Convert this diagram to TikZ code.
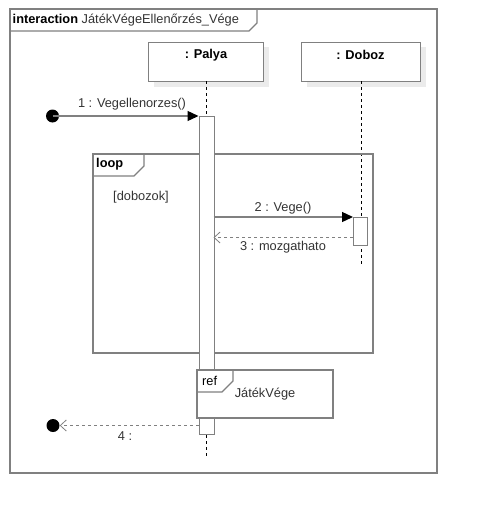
\documentclass[tikz,border=0pt]{standalone}
\usepackage{fontspec}
\setmainfont{Liberation Sans}
\usetikzlibrary{arrows.meta}

\definecolor{linegray}{HTML}{808080}
\definecolor{shadowgray}{HTML}{EBEBEB}
\definecolor{textgray}{HTML}{333333}

\tikzset{
  umlfont/.style={font=\fontsize{12.8}{15}\selectfont},
  umlbold/.style={font=\fontsize{12.8}{15}\selectfont\bfseries},
  frameline/.style={draw=linegray, line width=1.3pt},
  lifebox/.style={frameline, fill=white},
  boxshadow/.style={fill=shadowgray, draw=none},
  lifeline/.style={draw=black, line width=0.8pt, dash pattern=on 3pt off 3pt},
  actbar/.style={frameline, fill=white},
  callmsg/.style={draw=linegray, line width=1.3pt,
    -{Triangle[length=11pt,width=10pt,fill=black,color=black]}},
  replymsg/.style={draw=linegray, line width=1.3pt, dash pattern=on 3pt off 3pt,
    -{Straight Barb[length=6pt,width=11pt,line width=0.8pt,color=linegray]}},
  msglabel/.style={umlfont, text=textgray, inner sep=0pt},
  endpoint/.style={circle, fill=black, inner sep=0pt, minimum size=13pt}
}

\begin{document}
\begin{tikzpicture}[x=1pt,y=-1pt]
\useasboundingbox (0,0) rectangle (477,514);

% outer interaction frame and its name tab
\draw[frameline] (10,9) rectangle (437,473);
\draw[frameline] (10,31) -- (249,31) -- (257,23) -- (257,9);
\node[umlfont, anchor=west, inner sep=0pt] (title) at (12.5,20)
  {\textbf{interaction} \textcolor{textgray}{JátékVégeEllenőrzés\_Vége}};

% lifeline heads with drop shadows
\fill[boxshadow] (154,47) rectangle (269,87);
\fill[boxshadow] (307,47) rectangle (426,87);
\node[lifebox, anchor=north west, minimum width=115pt, minimum height=39pt,
      inner sep=0pt] (palya) at (148,42) {};
\node[lifebox, anchor=north west, minimum width=119pt, minimum height=39pt,
      inner sep=0pt] (doboz) at (301,42) {};
\node[umlbold, inner sep=0pt] (palyaname) at (206,55) {: Palya};
\node[umlbold, inner sep=0pt] (dobozname) at (360.5,55) {: Doboz};

% lifeline anchors
\coordinate (pTop) at (206,81);
\coordinate (pEnd) at (206,456);
\coordinate (dTop) at (361,81);
\coordinate (dEnd) at (361,265);

% dashed lifelines
\draw[lifeline] (pTop) -- (pEnd);
\draw[lifeline] (dTop) -- (dEnd);

% loop combined fragment
\draw[frameline] (93,154) rectangle (373,353);
\draw[frameline] (93,176) -- (134,176) -- (144,166) -- (144,154);
\node[umlbold, anchor=west, inner sep=0pt] (looplbl) at (96,164) {loop};
\node[msglabel] (guard) at (141,197) {[dobozok]};

% activation bars
\node[actbar, anchor=north west, minimum width=15pt, minimum height=318pt,
      inner sep=0pt] (pbar) at (198.5,116) {};
\node[actbar, anchor=north west, minimum width=14pt, minimum height=28pt,
      inner sep=0pt] (dbar) at (353,217) {};

% interaction use: ref JátékVége
\draw[frameline, fill=white] (197,370) rectangle (333,418);
\draw[frameline] (197,392) -- (222,392) -- (233,381) -- (233,370);
\node[msglabel, text=black, anchor=west] (reflbl) at (202,381) {ref};
\node[msglabel] (refname) at (265,394) {JátékVége};

% found and lost message end points
\node[endpoint] (start) at (52.5,116) {};
\node[endpoint] (stop) at (53,425.5) {};

% messages
\coordinate (m1end) at (198.5,116);
\draw[callmsg] (start.center) -- (m1end);
\node[msglabel] (m1) at (132,104) {1 : Vegellenorzes()};

\coordinate (m2start) at (213.5,217);
\coordinate (m2end) at (353,217);
\draw[callmsg] (m2start) -- (m2end);
\node[msglabel] (m2) at (283,208) {2 : Vege()};

\coordinate (m3start) at (353,237.5);
\coordinate (m3end) at (213.5,237.5);
\draw[replymsg] (m3start) -- (m3end);
\node[msglabel] (m3) at (283,247) {3 : mozgathato};

\coordinate (m4start) at (198.5,425.5);
\draw[replymsg] (m4start) -- (stop.east);
\node[msglabel] (m4) at (125,436) {4 :};
\end{tikzpicture}
\end{document}
